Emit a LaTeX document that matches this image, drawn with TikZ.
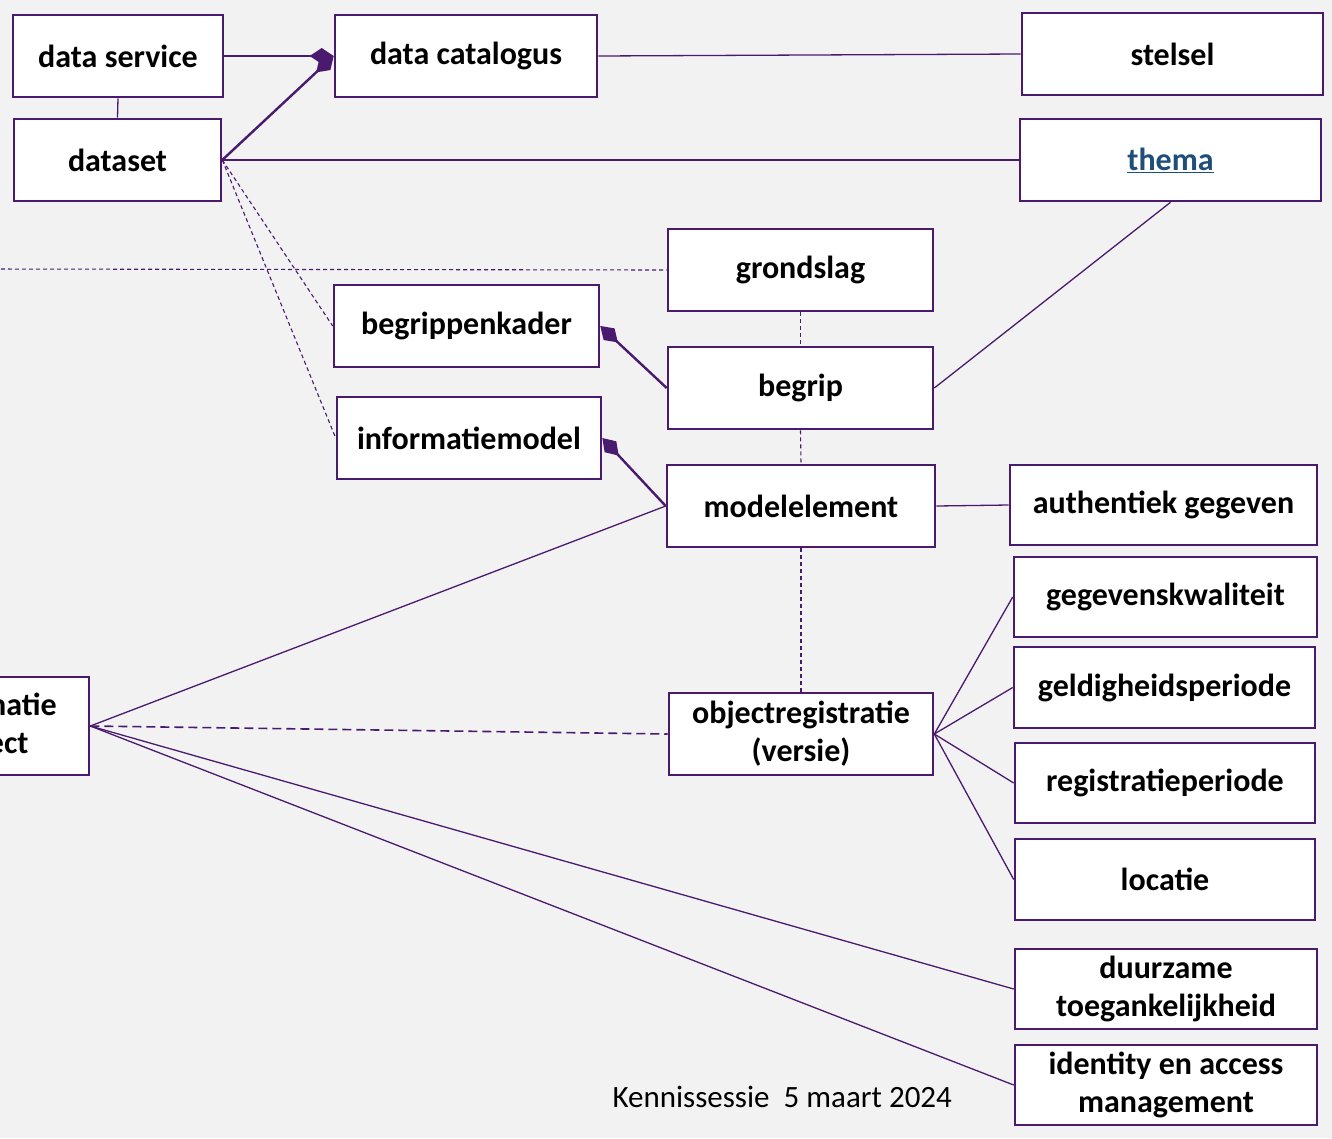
\documentclass[tikz,border=0pt]{standalone}
\usepackage{fontspec}
\setmainfont{Carlito}
\usetikzlibrary{arrows.meta}
\definecolor{bordpurple}{HTML}{4A1A6E}
\definecolor{pagebg}{HTML}{F2F2F2}
\definecolor{linkblue}{HTML}{1F4E79}
\tikzset{
  concept/.style={draw=bordpurple, line width=2.6pt, fill=white, inner sep=0pt,
    align=center, font=\fontsize{32}{38}\selectfont\bfseries},
  rel/.style={draw=bordpurple, line width=1.3pt},
  strongrel/.style={draw=bordpurple, line width=2.4pt,
    -{Diamond[length=24pt,width=16pt]}},
  dashrel/.style={draw=bordpurple, line width=1.1pt, dash pattern=on 4pt off 3pt},
  longdash/.style={draw=bordpurple, line width=1.6pt, dash pattern=on 9pt off 5pt},
}
\begin{document}
\begin{tikzpicture}[x=1pt,y=-1pt]
  \fill[pagebg] (0,0) rectangle (1332,1138);
  \useasboundingbox (0,0) rectangle (1332,1138);
  \clip (0,0) rectangle (1332,1138);

  % concept boxes
  \node[concept, minimum width=210pt, minimum height=82pt] (dsvc)   at (118,56)    {data service};
  \node[concept, minimum width=262pt, minimum height=82pt] (dcat)   at (466,56)    {data catalogus};
  \node[concept, minimum width=301pt, minimum height=82pt] (stel)   at (1172.5,54) {stelsel};
  \node[concept, minimum width=207pt, minimum height=82pt] (dset)   at (117.5,160) {dataset};
  \node[concept, minimum width=301pt, minimum height=82pt] (thema)  at (1170.5,160)
       {\textcolor{linkblue}{\underline{thema}}};
  \node[concept, minimum width=265pt, minimum height=82pt] (grond)  at (800.5,270) {grondslag};
  \node[concept, minimum width=265pt, minimum height=82pt] (bkader) at (466.5,326) {begrippenkader};
  \node[concept, minimum width=265pt, minimum height=82pt] (begrip) at (800.5,388) {begrip};
  \node[concept, minimum width=264pt, minimum height=82pt] (imodel) at (469,438)   {informatiemodel};
  \node[concept, minimum width=268pt, minimum height=82pt] (melem)  at (801,506)   {modelelement};
  \node[concept, minimum width=307pt, minimum height=80pt] (auth)   at (1163.5,505) {authentiek gegeven};
  \node[concept, minimum width=303pt, minimum height=80pt] (gkwal)  at (1165.5,597) {gegevenskwaliteit};
  \node[concept, minimum width=301pt, minimum height=81pt] (geldig) at (1164.5,687.5) {geldigheidsperiode};
  \node[concept, minimum width=264pt, minimum height=82pt] (objreg) at (801,734)   {objectregistratie\\(versie)};
  \node[concept, minimum width=300pt, minimum height=80pt] (regper) at (1165,783)  {registratieperiode};
  \node[concept, minimum width=300pt, minimum height=81pt] (loc)    at (1165,879.5) {locatie};
  \node[concept, minimum width=204pt, minimum height=98pt] (infobj) at (-13,726)   {informatie\\object};
  \node[concept, minimum width=302pt, minimum height=80pt] (duurz)  at (1166,989)  {duurzame\\toegankelijkheid};
  \node[concept, minimum width=302pt, minimum height=80pt] (ident)  at (1166,1085) {identity en access\\management};

  \coordinate (offleft) at (-20,269);

  % plain associations
  \draw[rel] (dsvc.south) -- (dset.north);
  \draw[rel] (dcat.east) -- (stel.west);
  \draw[rel] (dset.east) -- (thema.west);
  \draw[rel] (begrip.east) -- (thema.south);
  \draw[rel] (melem.east) -- (auth.west);
  \draw[rel] (infobj.east) -- (melem.west);
  \draw[rel] (objreg.east) -- (gkwal.west);
  \draw[rel] (objreg.east) -- (geldig.west);
  \draw[rel] (objreg.east) -- (regper.west);
  \draw[rel] (objreg.east) -- (loc.west);
  \draw[rel] (infobj.east) -- (duurz.west);
  \draw[rel] (infobj.east) -- (ident.west);

  % compositions
  \draw[strongrel] (dsvc.east) -- (dcat.west);
  \draw[strongrel] (dset.east) -- (dcat.west);
  \draw[strongrel] (begrip.west) -- (bkader.east);
  \draw[strongrel] (melem.west) -- (imodel.east);

  % dashed dependencies
  \draw[dashrel] (dset.east) -- (bkader.west);
  \draw[dashrel] (dset.east) -- (imodel.west);
  \draw[dashrel] (offleft) -- (grond.west);
  \draw[dashrel] (grond.south) -- (begrip.north);
  \draw[dashrel] (begrip.south) -- (melem.north);
  \draw[dashrel] (melem.south) -- (objreg.north);
  \draw[longdash] (infobj.east) -- (objreg.west);

  % footer
  \node[anchor=west, font=\fontsize{31}{36}\selectfont] (footer)
       at (609,1097) {Kennissessie\ \ 5 maart 2024};
\end{tikzpicture}
\end{document}
